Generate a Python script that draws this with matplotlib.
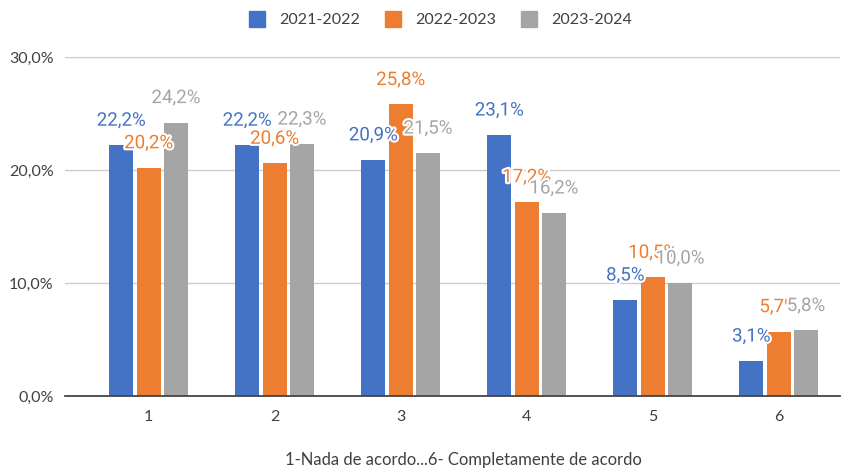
import numpy as np
import matplotlib
matplotlib.use("Agg")
import matplotlib.pyplot as plt
import matplotlib.patheffects as pe
from matplotlib.lines import Line2D

categories = ["1", "2", "3", "4", "5", "6"]
series_names = ["2021-2022", "2022-2023", "2023-2024"]
v_2122 = [22.2, 22.2, 20.9, 23.1, 8.5, 3.1]
v_2223 = [20.2, 20.6, 25.8, 17.2, 10.5, 5.7]
v_2324 = [24.2, 22.3, 21.5, 16.2, 10.0, 5.8]
y_ticks = [0, 10, 20, 30]
x_title = "1-Nada de acordo...6- Completamente de acordo"

COLORS = ["#4472C4", "#ED7D31", "#A5A5A5"]
TXT = "#404040"

plt.rcParams["font.family"] = ["Lato", "DejaVu Sans"]

fig = plt.figure(figsize=(8.46, 4.70), dpi=100)
ax = fig.add_axes([64.7 / 846, 74 / 470, (840 - 64.7) / 846, 339 / 470])

x = np.arange(len(categories))
step = 0.217
width = 0.19
for i, (vals, col) in enumerate(zip([v_2122, v_2223, v_2324], COLORS)):
    pos = x + (i - 1) * step
    ax.bar(pos, vals, width=width, color=col, zorder=3)

# data labels, drawn in series order so later ones sit on top
for i, (vals, col) in enumerate(zip([v_2122, v_2223, v_2324], COLORS)):
    pos = x + (i - 1) * step
    for px, v in zip(pos, vals):
        ax.annotate(f"{v:.1f}%".replace(".", ","), (px, v),
                    xytext=(0, 14), textcoords="offset points",
                    ha="center", va="baseline", fontsize=13.5,
                    family=["Roboto", "DejaVu Sans"], color=col, zorder=5,
                    path_effects=[pe.withStroke(linewidth=3, foreground="white")])

ax.set_xlim(-0.667, 5.487)
ax.set_ylim(0, 30)
ax.set_yticks(y_ticks)
ax.set_yticklabels([f"{t:.1f}%".replace(".", ",") for t in y_ticks])
ax.set_xticks(x)
ax.set_xticklabels(categories)
ax.tick_params(axis="both", length=0, labelsize=11.5, colors=TXT)
ax.tick_params(axis="x", pad=10)
ax.tick_params(axis="y", pad=8)

ax.yaxis.grid(True, color="#cccccc", linewidth=1, zorder=0)
ax.set_axisbelow(True)
for s in ["top", "right", "left"]:
    ax.spines[s].set_visible(False)
ax.spines["bottom"].set_color("#444444")
ax.spines["bottom"].set_linewidth(1.3)
ax.spines["bottom"].set_zorder(4)

handles = [Line2D([], [], marker="s", linestyle="none", markersize=11,
                  markerfacecolor=c, markeredgecolor=c) for c in COLORS]
fig.legend(handles, series_names, loc="center", bbox_to_anchor=(0.516, 0.957),
           ncol=3, frameon=False, fontsize=11.5, labelcolor=TXT,
           handletextpad=0.35, columnspacing=1.1)

fig.text(463 / 846, 1 - 460 / 470, x_title, ha="center", va="center",
         fontsize=12, color=TXT)

fig.savefig("out.png", dpi=100)
